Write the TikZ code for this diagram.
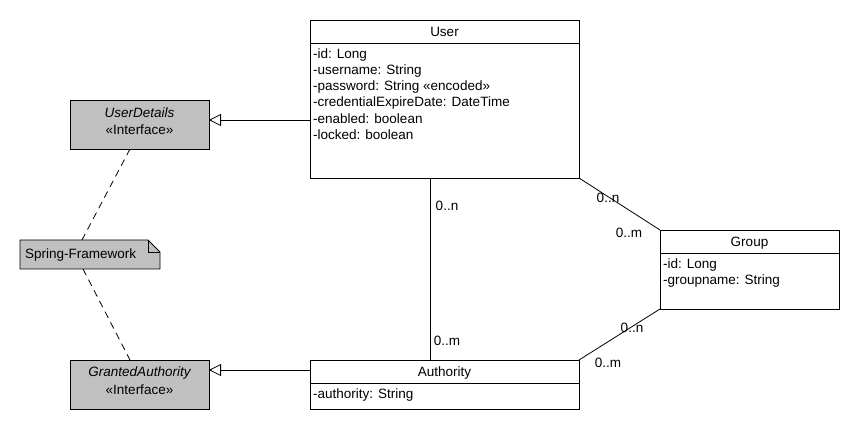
\documentclass[tikz,border=0pt]{standalone}
\usepackage{fontspec}
\setmainfont{Liberation Sans}
\usetikzlibrary{arrows.meta}
\definecolor{ifgray}{HTML}{C0C0C0}
\begin{document}
\begin{tikzpicture}[x=1pt,y=-1pt,
  every node/.style={font=\fontsize{13.5}{16}\selectfont, inner sep=0pt},
  boxline/.style={draw=black, line width=0.8pt},
  iface/.style={draw=black, line width=0.8pt, fill=ifgray},
  gen/.style={draw=black, line width=0.8pt, -{Triangle[open, length=12pt, width=12pt]}},
  assoc/.style={draw=black, line width=0.8pt},
  dashline/.style={draw=black, line width=0.8pt, dash pattern=on 7pt off 5pt},
  attr/.style={anchor=west},
  mult/.style={anchor=center}]
\useasboundingbox (0,0) rectangle (860,430);
% User
\draw[boxline, fill=white] (310,20) rectangle (579,178);
\draw[boxline] (310,43) -- (579,43);
\node at (444.5,32) {User};
\node[attr] (u1) at (313,55) {-id: Long};
\node[attr] (u2) at (313,71) {-username: String};
\node[attr] (u3) at (313,87) {-password: String «encoded»};
\node[attr] (u4) at (313,103) {-credentialExpireDate: DateTime};
\node[attr] (u5) at (313,119) {-enabled: boolean};
\node[attr] (u6) at (313,135) {-locked: boolean};
\coordinate (userL) at (310,120);
\coordinate (userB) at (430,178);
\coordinate (userBR) at (579,178);
% UserDetails
\draw[iface] (70,100) rectangle (209,149);
\node at (139.5,113) {\itshape UserDetails};
\node at (139.5,130) {«Interface»};
\coordinate (udR) at (209,120);
\coordinate (udB) at (130,149);
% GrantedAuthority
\draw[iface] (70,360) rectangle (209,409);
\node at (139.5,373) {\itshape GrantedAuthority};
\node at (139.5,390) {«Interface»};
\coordinate (gaR) at (209,370);
\coordinate (gaT) at (130,360);
% Note
\draw[iface] (20,240) -- (148,240) -- (160,252) -- (160,269) -- (20,269) -- cycle;
\draw[boxline] (148,240) -- (148,252) -- (160,252);
\node[anchor=west] at (25,255) {Spring-Framework};
\coordinate (noteT) at (82,240);
\coordinate (noteB) at (83,269);
% Authority
\draw[boxline, fill=white] (310,360) rectangle (579,409);
\draw[boxline] (310,383) -- (579,383);
\node at (444.5,373) {Authority};
\node[attr] at (313,395) {-authority: String};
\coordinate (authL) at (310,370);
\coordinate (authT) at (430,360);
\coordinate (authTR) at (579,360);
% Group
\draw[boxline, fill=white] (660,230) rectangle (839,309);
\draw[boxline] (660,253) -- (839,253);
\node at (749.5,243) {Group};
\node[attr] at (663,265) {-id: Long};
\node[attr] at (663,281) {-groupname: String};
\coordinate (grpTL) at (660,230);
\coordinate (grpBL) at (660,309);
% connectors
\draw[gen] (userL) -- (udR);
\draw[gen] (authL) -- (gaR);
\draw[dashline] (udB) -- (noteT);
\draw[dashline] (noteB) -- (gaT);
\draw[assoc] (userB) -- (authT);
\draw[assoc] (userBR) -- (grpTL);
\draw[assoc] (grpBL) -- (authTR);
% multiplicities
\node[mult] at (447,206) {0..n};
\node[mult] at (447,341) {0..m};
\node[mult] at (608,198) {0..n};
\node[mult] at (629,233) {0..m};
\node[mult] at (632,328) {0..n};
\node[mult] at (608,363) {0..m};
\end{tikzpicture}
\end{document}
